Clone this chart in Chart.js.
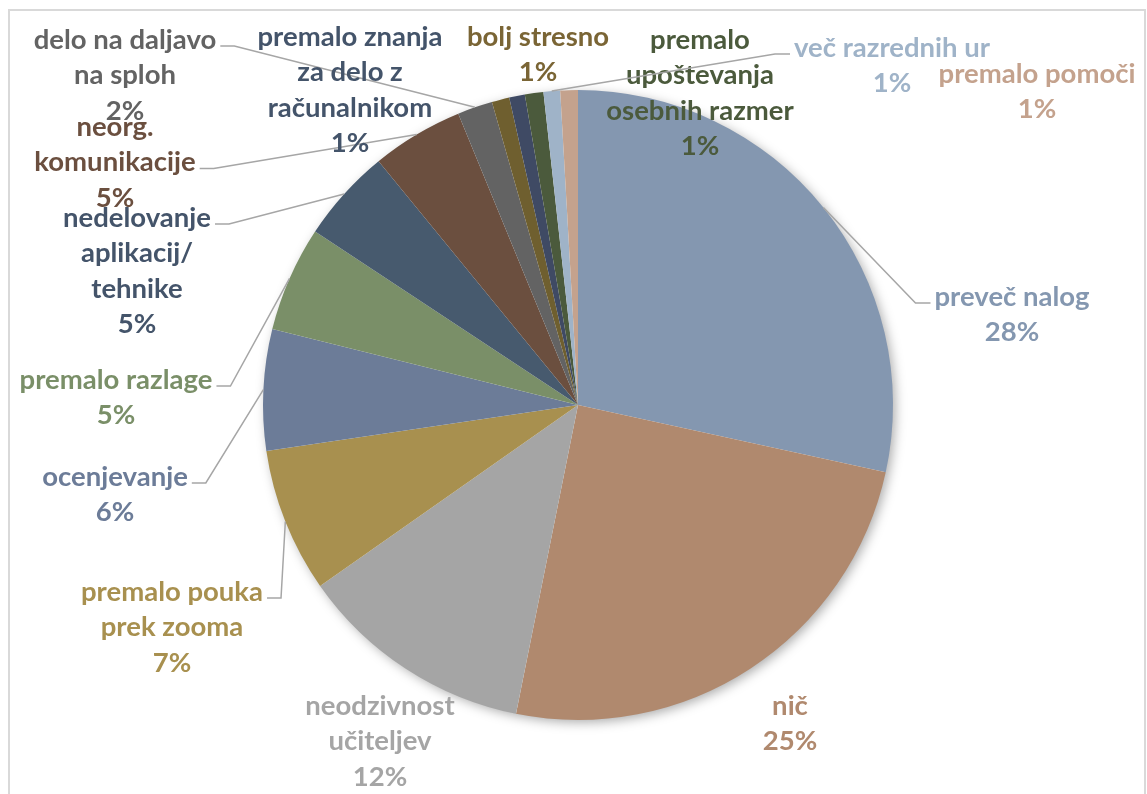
<!DOCTYPE html>
<html>
<head>
<meta charset="utf-8">
<script src="https://cdn.jsdelivr.net/npm/chart.js@4"></script>
<style>
  html, body { margin: 0; padding: 0; background: #ffffff; }
  #wrap { position: absolute; left: 0; top: 0; width: 1147px; height: 794px; }
</style>
</head>
<body>
<div id="wrap"><canvas id="c" width="1147" height="794"></canvas></div>
<script>
// ---- data ----
const categories = [
  ['preveč nalog'],
  ['nič'],
  ['neodzivnost', 'učiteljev'],
  ['premalo pouka', 'prek zooma'],
  ['ocenjevanje'],
  ['premalo razlage'],
  ['nedelovanje', 'aplikacij/', 'tehnike'],
  ['neorg.', 'komunikacije'],
  ['delo na daljavo', 'na sploh'],
  ['bolj stresno'],
  ['premalo znanja', 'za delo z', 'računalnikom'],
  ['premalo', 'upoštevanja', 'osebnih razmer'],
  ['več razrednih ur'],
  ['premalo pomoči']
];
const values = [28.4, 24.7, 12.1, 7.4, 6.2, 5.4, 4.8, 4.7, 1.8, 0.9, 0.8, 0.95, 0.85, 0.9];

// ---- styles / layout ----
const sliceColors = ['#8497b0', '#b0896e', '#a5a5a5', '#a8904f', '#6c7c98', '#7a8f68', '#475a6e',
                     '#6b4f3f', '#636363', '#6f5f2f', '#3f4a64', '#4b5a3c', '#9fb3c8', '#c4a28d'];
const textColors  = ['#8497b0', '#b0896e', '#a5a5a5', '#a8904f', '#6c7c98', '#7a8f68', '#44546a',
                     '#6b4f3f', '#636363', '#7a6535', '#44546a', '#4b5a3c', '#9fb3c8', '#c4a28d'];
// label block: center x, first line center y, leader side, anchor line index
const labelLayout = [
  {x: 1012, y: 297, leader: 'R', line: 0},
  {x: 790,  y: 706, leader: null},
  {x: 380,  y: 706, leader: null},
  {x: 172,  y: 592, leader: 'L', line: 0},
  {x: 115,  y: 477, leader: 'L', line: 0},
  {x: 116,  y: 380, leader: 'L', line: 0},
  {x: 137,  y: 218, leader: 'L', line: 0},
  {x: 115,  y: 127, leader: 'L', line: 1},
  {x: 125,  y: 40,  leader: 'L', line: 0},
  {x: 538,  y: 37,  leader: null},
  {x: 350,  y: 37,  leader: null},
  {x: 700,  y: 40,  leader: null},
  {x: 892,  y: 48,  leader: 'R', line: 0},
  {x: 1037, y: 74,  leader: null}
];
const FONT = 'bold 27.5px Lato, "Open Sans", sans-serif';
const LINE_H = 35.5;

const total = values.reduce((a, b) => a + b, 0);

const framePlugin = {
  id: 'frame',
  beforeDraw(chart) {
    const ctx = chart.ctx;
    ctx.save();
    ctx.fillStyle = '#ffffff';
    ctx.fillRect(0, 0, chart.width, chart.height);
    ctx.strokeStyle = '#d9d9d9';
    ctx.lineWidth = 2;
    ctx.strokeRect(9, 10, 1136, 820);
    ctx.restore();
  },
  beforeDatasetsDraw(chart) {
    const meta = chart.getDatasetMeta(0);
    const a = meta.data[0];
    if (!a) return;
    const ctx = chart.ctx;
    ctx.save();
    ctx.shadowColor = 'rgba(0,0,0,0.35)';
    ctx.shadowBlur = 12;
    ctx.shadowOffsetX = 3;
    ctx.shadowOffsetY = 3;
    ctx.fillStyle = '#ffffff';
    ctx.beginPath();
    ctx.arc(a.x, a.y, a.outerRadius - 1, 0, Math.PI * 2);
    ctx.fill();
    ctx.restore();
  }
};

const labelPlugin = {
  id: 'labels',
  afterDatasetsDraw(chart) {
    const ctx = chart.ctx;
    const meta = chart.getDatasetMeta(0);
    ctx.save();
    ctx.font = FONT;
    ctx.textAlign = 'center';
    ctx.textBaseline = 'middle';
    meta.data.forEach((arc, i) => {
      const L = labelLayout[i];
      const lines = categories[i].concat([Math.round(values[i] / total * 100) + '%']);
      if (L.leader) {
        const p = arc.getProps(['x', 'y', 'startAngle', 'endAngle', 'outerRadius'], true);
        const mid = (p.startAngle + p.endAngle) / 2;
        const ex = p.x + Math.cos(mid) * p.outerRadius;
        const ey = p.y + Math.sin(mid) * p.outerRadius;
        const w = ctx.measureText(lines[L.line]).width;
        const ly = L.y + L.line * LINE_H + 6;
        let tx, elx;
        if (L.leader === 'R') {
          tx = L.x - w / 2 - 4;
          elx = tx - 15;
        } else {
          tx = L.x + w / 2 + 4;
          elx = tx + 14;
        }
        ctx.strokeStyle = '#a6a6a6';
        ctx.lineWidth = 1.5;
        ctx.beginPath();
        ctx.moveTo(ex, ey);
        ctx.lineTo(elx, ly);
        ctx.lineTo(tx, ly);
        ctx.stroke();
      }
      ctx.fillStyle = textColors[i];
      lines.forEach((t, k) => {
        ctx.fillText(t, L.x, L.y + k * LINE_H);
      });
    });
    ctx.restore();
  }
};

new Chart(document.getElementById('c'), {
  type: 'pie',
  data: {
    labels: categories,
    datasets: [{
      data: values,
      backgroundColor: sliceColors,
      borderWidth: 0
    }]
  },
  options: {
    responsive: false,
    animation: false,
    layout: { padding: { top: 90, bottom: 74, left: 263, right: 254 } },
    plugins: {
      legend: { display: false },
      tooltip: { enabled: false }
    }
  },
  plugins: [framePlugin, labelPlugin]
});
</script>
</body>
</html>
